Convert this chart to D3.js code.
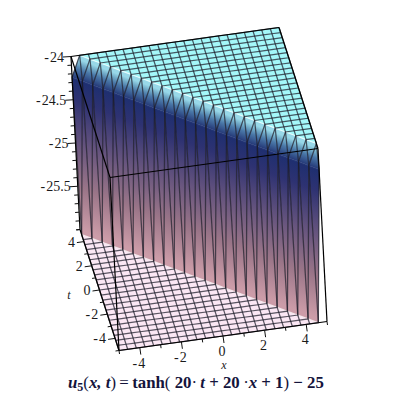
<!DOCTYPE html>
<html><head><meta charset="utf-8">
<script src="https://cdnjs.cloudflare.com/ajax/libs/d3/7.8.5/d3.min.js"></script>
<style>html,body{margin:0;padding:0;background:#fff}svg{display:block}text{font-family:"Liberation Serif",serif;fill:#1a1a1a}</style>
</head><body><svg id="c" width="400" height="400"></svg>
<script>
// data
const xTicks = [-4,-2,0,2,4];
const tTicks = [-4,-2,0,2,4];
const xMinor = [-5,-3,-1,1,3,5];
const tMinor = [-5,-3,-1,1,3,5];
const zTicks = [-24,-24.5,-25,-25.5];
const zMinor = [-24.1,-24.2,-24.3,-24.4,-24.6,-24.7,-24.8,-24.9,-25.1,-25.2,-25.3,-25.4,-25.6,-25.7,-25.8,-25.9,-26];
const zLabels = ["-\u200a24","-\u200a24.5","-\u200a25","-\u200a25.5"];
const xLabels = ["-\u200a4","-\u200a2","0","2","4"];
const tLabels = ["-\u200a4","-\u200a2","0","2","4"];
const gridCells = 24;
const sumBreaks = [-0.2,0.2];      // value of x+t separating the three plateaus
const zLevels = [-26,-24.24,-24];  // surface height on each side and on the crest
const wallZ = [-24,-24.05,-24.12,-24.26,-24.5,-25,-25.5,-26];
const wallColors = ["#98d8e8","#74aeca","#4a78a8","#1f2f70","#2e3272","#66547e","#9a7588","#cc9ca8"];

const xPx=d3.scaleLinear([-5,5],[0,208]), xPy=d3.scaleLinear([-5,5],[0,-29]);
const tPx=d3.scaleLinear([-5,5],[0,-39]), tPy=d3.scaleLinear([-5,5],[0,-121]);
const zPx=d3.scaleLinear([-26,-24],[0,-9]), zPy=d3.scaleLinear([-26,-24],[0,-173]);
const ox=119, oy=350.5;
const P=(x,t,z)=>[ox+xPx(x)+tPx(t)+zPx(z), oy+xPy(x)+tPy(t)+zPy(z)];
const zOfSum=d3.scaleThreshold(sumBreaks,zLevels);
const gridVal=d3.scaleLinear([0,gridCells],[-5,5]);
const idx=d3.range(gridCells+1);
const V=(i,j)=>{const x=gridVal(i),t=gridVal(j);return P(x,t,zOfSum(x+t));};
const svg=d3.select("#c");
const line=d3.line();

// wall gradient: isolines of z run parallel to the back-left to front-right diagonal
const A=P(-5,5,-24),C=P(5,-5,-24),Ab=P(-5,5,-26);
const dx=C[0]-A[0],dy=C[1]-A[1],len=Math.hypot(dx,dy),nx=-dy/len,ny=dx/len;
const depth=(Ab[0]-A[0])*nx+(Ab[1]-A[1])*ny;
const off=d3.scaleLinear([-24,-26],[0,1]);
const grad=svg.append("defs").append("linearGradient").attr("id","wall")
 .attr("gradientUnits","userSpaceOnUse")
 .attr("x1",A[0]).attr("y1",A[1]).attr("x2",A[0]+nx*depth).attr("y2",A[1]+ny*depth);
grad.selectAll("stop").data(wallZ).join("stop").attr("offset",d=>off(d)).attr("stop-color",(d,i)=>wallColors[i]);

// triangles
const tris=[];
for(const i of idx.slice(0,-1))for(const j of idx.slice(0,-1)){
  const a=[i,j],b=[i+1,j],c=[i+1,j+1],d=[i,j+1];
  tris.push([a,b,d],[b,c,d]);
}
const zt=v=>zOfSum(gridVal(v[0])+gridVal(v[1]));
const fillOf=tr=>{const zs=tr.map(zt);const lo=d3.min(zs),hi=d3.max(zs);
  if(lo===hi) return lo===-26?"#fbe7f4":"#a2f7f9"; return "url(#wall)";};
svg.append("g").selectAll("path").data(tris).join("path")
 .attr("d",tr=>line(tr.map(v=>V(v[0],v[1])))+"Z")
 .attr("fill",fillOf).attr("stroke",fillOf).attr("stroke-width",0.4);

// bright rims along the plateau edges
const rimTop=idx.filter(i=>gridCells+1-i<=gridCells).map(i=>[i,gridCells+1-i]);
const rimBot=idx.filter(i=>gridCells-1-i>=0).map(i=>[i,gridCells-1-i]);
[rimTop,rimBot].forEach(r=>{
 svg.append("path").attr("fill","none").attr("stroke","#fff").attr("stroke-opacity",.7).attr("stroke-width",1.2)
  .attr("d",line(r.map(v=>V(v[0],v[1]))));
});

// mesh
const mesh=svg.append("g").attr("fill","none").attr("stroke","#1c1c28").attr("stroke-opacity",.72).attr("stroke-width",1.25);
idx.forEach(i=>{
  mesh.append("path").attr("d",line(idx.map(j=>V(i,j))));
  mesh.append("path").attr("d",line(idx.map(j=>V(j,i))));
});

// box
const box=[[[-5,5,-24],[5,5,-24]],[[5,5,-24],[5,-5,-24]],[[5,-5,-24],[-5,-5,-24]],[[-5,-5,-24],[-5,5,-24]],
 [[-5,5,-24],[-5,5,-26]],[[-5,5,-26],[-5,-5,-26]],[[-5,-5,-26],[5,-5,-26]],[[5,-5,-26],[5,-5,-24]],[[-5,-5,-24],[-5,-5,-26]]];
svg.append("g").attr("stroke","#000").attr("stroke-width",1.2).attr("fill","none")
 .selectAll("path").data(box).join("path").attr("d",d=>line(d.map(p=>P(...p))));

// ticks
const tk=svg.append("g").attr("stroke","#111").attr("stroke-width",1);
const seg=(a,b)=>tk.append("line").attr("x1",a[0]).attr("y1",a[1]).attr("x2",b[0]).attr("y2",b[1]);
xTicks.forEach(v=>{const p=P(v,-5,-26);seg(p,[p[0]+1,p[1]+7]);});
xMinor.forEach(v=>{const p=P(v,-5,-26);seg(p,[p[0]+.5,p[1]+3.5]);});
tTicks.forEach(v=>{const q=P(-5,v,-26);seg(q,[q[0]-7,q[1]+1]);});
tMinor.forEach(v=>{const q=P(-5,v,-26);seg(q,[q[0]-3.5,q[1]+.5]);});
zTicks.forEach(v=>{const q=P(-5,5,v);seg(q,[q[0]-8,q[1]+.5]);});
zMinor.forEach(v=>{const q=P(-5,5,v);seg(q,[q[0]-4,q[1]+.3]);});

// labels
const lab=svg.append("g").attr("font-size",14);
zTicks.forEach((v,i)=>{const q=P(-5,5,v);lab.append("text").attr("x",q[0]-7).attr("y",q[1]+5).attr("text-anchor","end").text(zLabels[i]);});
tTicks.forEach((v,i)=>{const q=P(-5,v,-26);lab.append("text").attr("x",q[0]-9).attr("y",q[1]+5).attr("text-anchor","end").text(tLabels[i]);});
xTicks.forEach((v,i)=>{const p=P(v,-5,-26);lab.append("text").attr("x",p[0]-1).attr("y",p[1]+20).attr("text-anchor","middle").text(xLabels[i]);});
lab.append("text").attr("x",69).attr("y",299).attr("text-anchor","middle").attr("font-style","italic").attr("font-size",12).text("t");
lab.append("text").attr("x",224).attr("y",369).attr("text-anchor","middle").attr("font-style","italic").attr("font-size",12).text("x");

// title
const ttl=svg.append("text").attr("x",68).attr("y",388).attr("font-size",16.8).attr("font-weight","bold").style("fill","#14143c");
const sp=(s,o={})=>{const e=ttl.append("tspan").text(s);Object.entries(o).forEach(([k,v])=>e.attr(k,v));return e;};
sp("u",{"font-style":"italic"});sp("5",{"font-size":12,dy:3});
sp("(",{dy:-3,"font-weight":"normal"});sp("x, t",{"font-style":"italic"});sp(")\u2009=\u2009",{"font-weight":"normal"});
sp("tanh");sp("( ",{"font-weight":"normal"});sp("20");sp("\u00b7\u2009",{"font-weight":"normal"});sp("t",{"font-style":"italic"});
sp(" + 20\u2009");sp("\u00b7",{"font-weight":"normal"});sp("x",{"font-style":"italic"});sp(" + 1");sp(")",{"font-weight":"normal"});sp(" \u2212 25");
</script></body></html>
